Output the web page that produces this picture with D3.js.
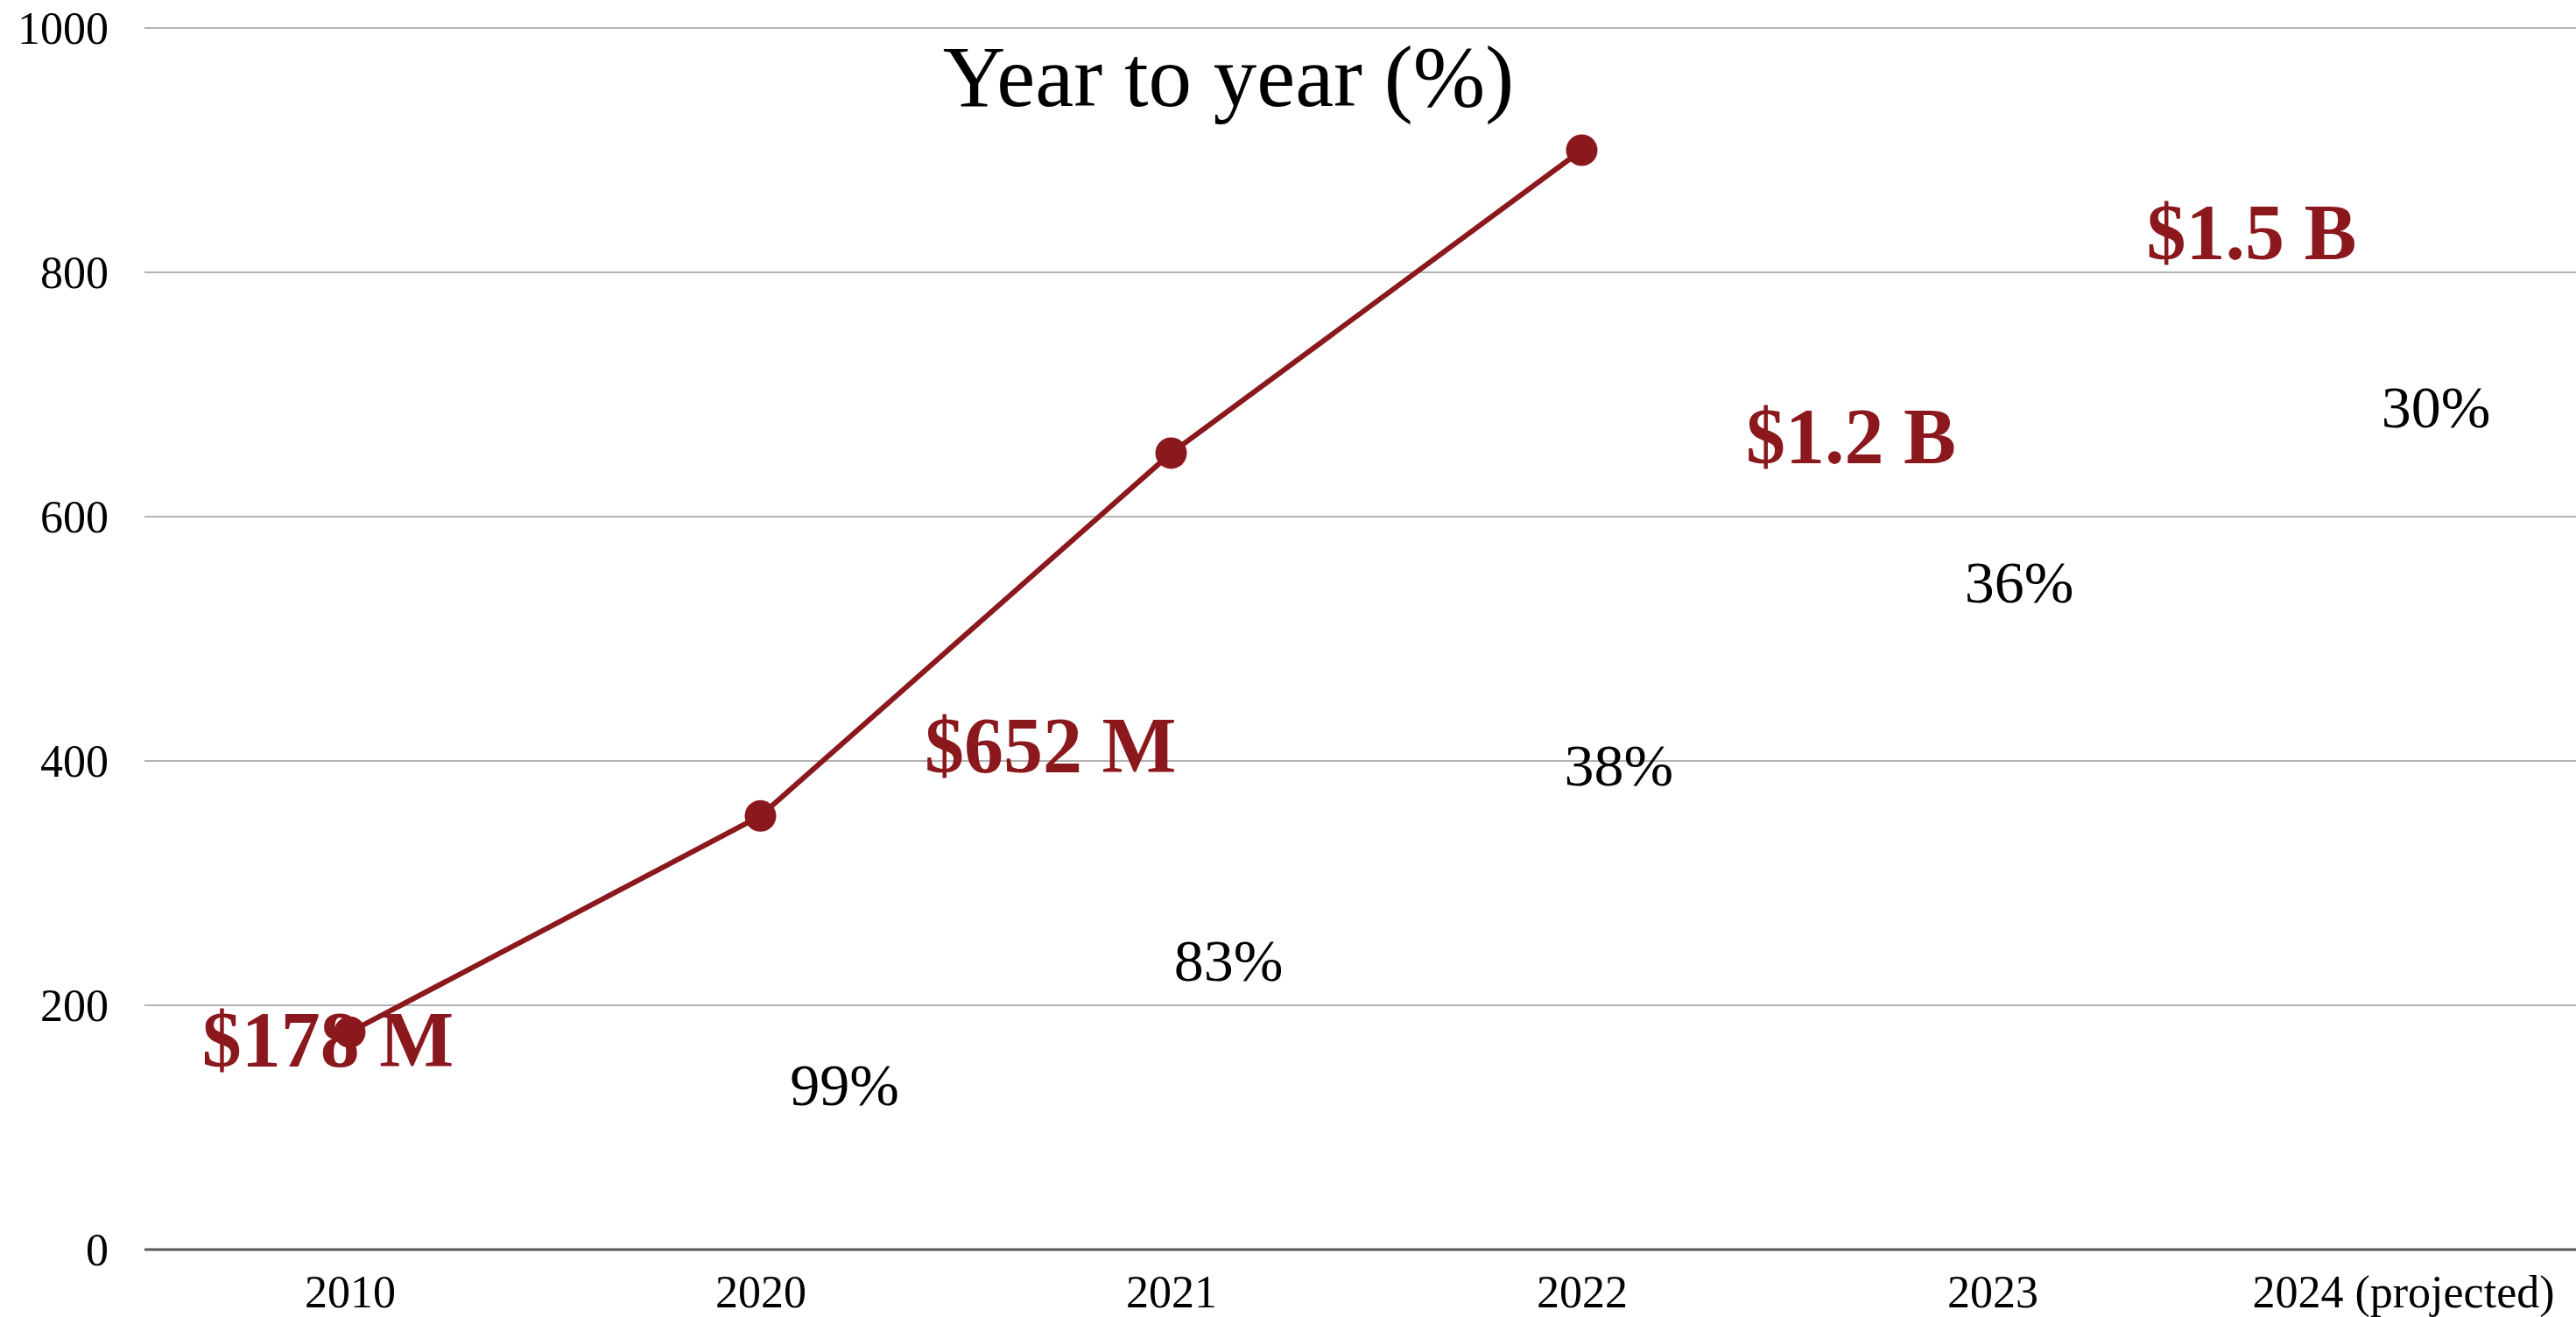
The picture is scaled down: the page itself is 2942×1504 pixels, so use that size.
<!DOCTYPE html>
<html>
<head>
<meta charset="utf-8">
<script src="https://cdn.jsdelivr.net/npm/d3@7"></script>
<style>
  html, body { margin: 0; padding: 0; background: #ffffff; }
  svg { display: block; }
  text { font-family: "Liberation Serif", "Times New Roman", serif; }
</style>
</head>
<body>
<svg id="chart" width="2942" height="1504"></svg>
<script>
// Revenue by year (millions of dollars)
const years = ["2010", "2020", "2021", "2022", "2023", "2024 (projected)"];
const lineYears = ["2010", "2020", "2021", "2022"];
const revenue = [178, 355, 652, 900];
const yTicks = [0, 200, 400, 600, 800, 1000];

// Headline amounts and year-over-year growth
const amountLabels = ["$178 M", "$652 M", "$1.2 B", "$1.5 B"];
const growthLabels = ["99%", "83%", "38%", "36%", "30%"];

// Where each annotation sits: category, shift in steps, height in axis units
const amountSpots = [
  { year: "2010", shift: -0.36, at: 150 },
  { year: "2020", shift: 0.40, at: 391 },
  { year: "2022", shift: 0.40, at: 644 },
  { year: "2023", shift: 0.375, at: 811 }
];
const growthSpots = [
  { year: "2020", shift: 0.205, at: 118 },
  { year: "2021", shift: 0.14, at: 220 },
  { year: "2022", shift: 0.09, at: 380 },
  { year: "2023", shift: 0.065, at: 530 },
  { year: "2024 (projected)", shift: 0.08, at: 673 }
];

const RED = "#8b181c";
const svg = d3.select("#chart");

const plot = { left: 165, right: 2979, top: 32, bottom: 1427 };

const x = d3.scalePoint()
  .domain(years)
  .range([plot.left, plot.right])
  .padding(0.5);

const y = d3.scaleLinear()
  .domain([0, 1000])
  .range([plot.bottom, plot.top]);

// Horizontal gridlines, with a darker baseline at zero
svg.append("g")
  .selectAll("line")
  .data(yTicks)
  .join("line")
  .attr("x1", plot.left)
  .attr("x2", plot.right)
  .attr("y1", d => y(d))
  .attr("y2", d => y(d))
  .attr("stroke", d => d === 0 ? "#595959" : "#b3b3b3")
  .attr("stroke-width", d => d === 0 ? 3 : 2);

// Value axis labels
const yAxis = svg.append("g")
  .attr("transform", `translate(${plot.left},0)`)
  .call(d3.axisLeft(y).tickValues(yTicks).tickSize(0).tickPadding(41).tickFormat(d3.format("d")));
yAxis.select(".domain").remove();
yAxis.selectAll("text")
  .attr("font-size", 52)
  .attr("font-family", "Liberation Serif")
  .attr("fill", "#000")
  .attr("dy", "0.33em");

// Category axis labels
const xAxis = svg.append("g")
  .attr("transform", `translate(0,${plot.bottom})`)
  .call(d3.axisBottom(x).tickSize(0).tickPadding(0));
xAxis.select(".domain").remove();
xAxis.selectAll("text")
  .attr("font-size", 52)
  .attr("font-family", "Liberation Serif")
  .attr("fill", "#000")
  .attr("y", 66)
  .attr("dy", 0);

// Title
svg.append("text")
  .attr("x", 1403)
  .attr("y", 121)
  .attr("text-anchor", "middle")
  .attr("font-size", 99)
  .attr("fill", "#000")
  .text("Year to year (%)");

// Revenue line and markers
const pts = lineYears.map((yr, i) => ({ yr, v: revenue[i] }));
const line = d3.line().x(d => x(d.yr)).y(d => y(d.v));

svg.append("path")
  .datum(pts)
  .attr("d", line)
  .attr("fill", "none")
  .attr("stroke", RED)
  .attr("stroke-width", 6);

svg.append("g")
  .selectAll("circle")
  .data(pts)
  .join("circle")
  .attr("cx", d => x(d.yr))
  .attr("cy", d => y(d.v))
  .attr("r", 18)
  .attr("fill", RED);

// Amount annotations
svg.append("g")
  .selectAll("text")
  .data(amountSpots)
  .join("text")
  .attr("x", d => x(d.year) + d.shift * x.step())
  .attr("y", d => y(d.at))
  .attr("font-size", 90)
  .attr("font-weight", "bold")
  .attr("fill", RED)
  .text((d, i) => amountLabels[i]);

// Growth annotations
svg.append("g")
  .selectAll("text")
  .data(growthSpots)
  .join("text")
  .attr("x", d => x(d.year) + d.shift * x.step())
  .attr("y", d => y(d.at))
  .attr("text-anchor", "middle")
  .attr("font-size", 68)
  .attr("fill", "#000")
  .text((d, i) => growthLabels[i]);
</script>
</body>
</html>
